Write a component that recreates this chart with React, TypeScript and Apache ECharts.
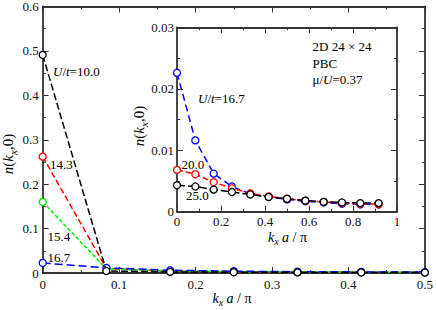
import React, { useEffect, useRef } from 'react';
import * as echarts from 'echarts';

const kMain = [0, 0.0833, 0.1667, 0.25, 0.3333, 0.4167, 0.5];
const kInset = [0, 0.0833, 0.1667, 0.25, 0.3333, 0.4167, 0.5, 0.5833, 0.6667, 0.75, 0.8333, 0.9167];

const mainU100 = [0.491, 0.0045, 0.0025, 0.0018, 0.0014, 0.0012, 0.001];
const mainU143 = [0.262, 0.0105, 0.004, 0.003, 0.0022, 0.0018, 0.0015];
const mainU154 = [0.16, 0.0095, 0.0045, 0.0032, 0.0024, 0.0019, 0.0016];
const mainU167 = [0.0226, 0.0116, 0.0062, 0.0041, 0.0029, 0.0024, 0.0021];

const insetU167 = [0.0226, 0.0116, 0.0062, 0.0041, 0.0029, 0.0024, 0.002, 0.0017, 0.0015, 0.0013, 0.0012, 0.0012];
const insetU200 = [0.0068, 0.0061, 0.0048, 0.0038, 0.003, 0.0025, 0.0021, 0.0018, 0.0016, 0.0014, 0.0013, 0.0012];
const insetU250 = [0.0043, 0.0041, 0.0036, 0.0032, 0.0028, 0.0024, 0.0021, 0.0018, 0.0016, 0.0015, 0.0014, 0.0014];

const FONT = "'Liberation Serif', 'Times New Roman', serif";
const AX = '#333';

const pairs = (xs: number[], ys: number[]) => ys.map((y, i) => [xs[i], y]);

function axis(gridIndex: number, position: string, min: number, max: number, interval: number, labels: boolean, fmt?: (v: number) => string, margin = 4) {
  return {
    type: 'value', gridIndex, position, min, max, interval,
    axisLine: { show: true, onZero: false, lineStyle: { color: AX, width: 1.8 } },
    axisTick: { show: true, inside: true, length: 6, lineStyle: { color: AX, width: 1 } },
    minorTick: { show: true, splitNumber: 2, length: 3, lineStyle: { color: AX, width: 1 } },
    splitLine: { show: false },
    minorSplitLine: { show: false },
    axisLabel: { show: labels, fontFamily: FONT, fontSize: 13, color: '#111', margin, formatter: fmt, hideOverlap: false, showMinLabel: true, showMaxLabel: true },
  };
}

function lineSeries(xi: number, yi: number, data: number[][], color: string, dash: number[], z: number, firstOnly = false) {
  return {
    type: 'line', xAxisIndex: xi, yAxisIndex: yi, data, z,
    symbol: firstOnly ? ((_v: any, p: any) => (p.dataIndex === 0 ? 'circle' : 'none')) : 'circle',
    symbolSize: 7, showSymbol: true,
    lineStyle: { color, width: 1.5, type: dash },
    itemStyle: { color: '#fff', borderColor: color, borderWidth: 1.3 },
    emphasis: { disabled: true },
  };
}

function richFor(size: number) {
  return {
    i: { fontFamily: FONT, fontSize: size, fontStyle: 'italic', fill: '#000' },
    r: { fontFamily: FONT, fontSize: size, fill: '#000' },
    s: { fontFamily: FONT, fontSize: Math.round(size * 0.7), fontStyle: 'italic', fill: '#000', padding: [9, 0, 0, 0] },
  };
}

function txt(x: number, y: number, text: string, align = 'left', rotation = 0, size = 13) {
  return {
    type: 'text', x, y, rotation, z: 100,
    style: {
      text, rich: richFor(size), fill: '#000', fontFamily: FONT, fontSize: size,
      align, verticalAlign: 'middle', textAlign: align, textVerticalAlign: 'middle',
    },
  };
}

export default function App() {
  const ref = useRef<HTMLDivElement>(null);
  useEffect(() => {
    document.body.style.margin = '0';
    const chart = echarts.init(ref.current!, null, { renderer: 'svg' });
    const f1 = (v: number) => (v === 0 ? '0' : v.toFixed(1));
    const f2 = (v: number) => (v === 0 ? '0' : v.toFixed(2));
    const fi = (v: number) => (v === 0 ? '0' : Math.abs(v - 1) < 1e-9 ? '1' : v.toFixed(1));
    chart.setOption({
      animation: false,
      backgroundColor: '#fff',
      grid: [
        { left: 42.7, top: 5, right: 9.3, bottom: 37 },
        { left: 177, top: 27.3, width: 220, height: 184.4, show: true, backgroundColor: '#fff', borderWidth: 0 },
      ],
      xAxis: [
        axis(0, 'bottom', 0, 0.5, 0.1, true, f1, 5),
        axis(0, 'top', 0, 0.5, 0.1, false),
        axis(1, 'bottom', 0, 1, 0.2, true, fi, 3),
        axis(1, 'top', 0, 1, 0.2, false),
      ],
      yAxis: [
        axis(0, 'left', 0, 0.6, 0.1, true, f1, 4),
        axis(0, 'right', 0, 0.6, 0.1, false),
        axis(1, 'left', 0, 0.03, 0.01, true, f2, 3),
        axis(1, 'right', 0, 0.03, 0.01, false),
      ],
      series: [
        lineSeries(0, 0, pairs(kMain, mainU143), '#ff0000', [6, 3], 2, true),
        lineSeries(0, 0, pairs(kMain, mainU154), '#00ee00', [4, 2], 3, true),
        lineSeries(0, 0, pairs(kMain, mainU167), '#0000ff', [8, 4], 4),
        lineSeries(0, 0, pairs(kMain, mainU100), '#000000', [7, 3], 5),
        lineSeries(2, 2, pairs(kInset, insetU167), '#0000ff', [7, 4], 6),
        lineSeries(2, 2, pairs(kInset, insetU200), '#ff0000', [6, 3], 7),
        lineSeries(2, 2, pairs(kInset, insetU250), '#000000', [8, 3], 8),
      ],
      graphic: [
        txt(53, 71, '{i|U}{r|/}{i|t}{r|=10.0}'),
        txt(50, 164.5, '14.3'),
        txt(47.5, 236, '15.4'),
        txt(47.5, 257.5, '16.7'),
        txt(198, 98.5, '{i|U}{r|/}{i|t}{r|=16.7}'),
        txt(181.5, 164.5, '20.0'),
        txt(186, 195, '25.0'),
        txt(312.5, 46, '2D 24 × 24'),
        txt(312.5, 63.5, 'PBC'),
        txt(312.5, 79.5, '{r|μ/}{i|U}{r|=0.37}'),
        txt(232, 298, '{i|k}{s|x}{i| a}{r| / π}', 'center', 0, 14),
        txt(287.5, 237, '{i|k}{s|x}{i| a}{r| / π}', 'center', 0, 14),
        txt(8, 154, '{i|n}{r|(}{i|k}{s|x}{r|,0)}', 'center', Math.PI / 2, 15),
        txt(139, 126, '{i|n}{r|(}{i|k}{s|x}{r|,0)}', 'center', Math.PI / 2, 15),
      ],
    });
    return () => chart.dispose();
  }, []);
  return <div ref={ref} style={{ width: 436, height: 310 }} />;
}
